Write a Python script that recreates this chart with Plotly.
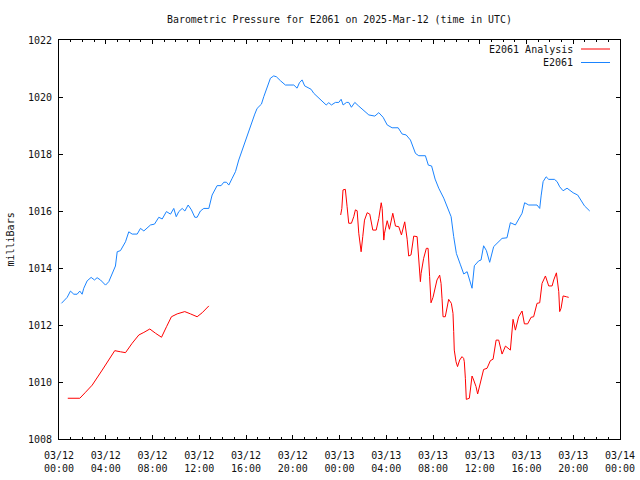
import pandas as pd
import plotly.graph_objects as go

base = pd.Timestamp("2025-03-12 00:00")

# E2061 observed (hours since 03/12 00:00 UTC, mb)
obs_hours = [0.21, 0.70, 0.98, 1.27, 1.55, 1.78, 1.98, 2.12, 2.41, 2.75, 3.04, 3.26, 3.55, 3.98, 4.26,
             4.55, 4.83, 4.98, 5.26, 5.69, 5.97, 6.26, 6.69, 6.97, 7.26, 7.83, 8.17, 8.54, 8.83, 9.19,
             9.54, 9.82, 10.03, 10.25, 10.54, 10.77, 11.05, 11.33, 11.62, 11.82, 12.10, 12.39, 12.82,
             13.10, 13.53, 13.87, 14.10, 14.33, 14.53, 14.82, 15.10, 15.38, 15.67, 15.95, 16.24, 16.53,
             16.75, 16.95, 17.32, 17.52, 17.81, 18.09, 18.37, 18.60, 18.95, 19.37, 20.09, 20.37, 20.57,
             20.80, 21.02, 21.23, 21.57, 21.80, 22.37, 22.86, 23.08, 23.31, 23.65, 23.94, 24.14, 24.31,
             24.60, 24.79, 25.02, 25.31, 25.65, 26.08, 26.51, 27.02, 27.36, 27.73, 28.08, 28.50, 29.02,
             29.36, 29.70, 30.07, 30.50, 30.78, 31.35, 31.60, 31.88, 32.18, 32.49, 32.92, 33.21, 33.55,
             33.77, 34.00, 34.35, 34.63, 34.92, 35.14, 35.34, 35.54, 35.91, 36.11, 36.33, 36.57, 36.85,
             37.19, 37.62, 37.91, 38.33, 38.62, 39.05, 39.33, 39.62, 39.84, 40.19, 40.90, 41.13, 41.25,
             41.42, 41.68, 41.90, 42.39, 42.62, 42.84, 43.13, 43.47, 43.76, 43.99, 44.38, 44.61, 44.96,
             45.41]
obs_mb = [1012.76, 1012.97, 1013.19, 1013.08, 1013.08, 1013.19, 1013.08, 1013.29, 1013.55, 1013.67,
          1013.58, 1013.66, 1013.58, 1013.40, 1013.52, 1013.81, 1014.07, 1014.57, 1014.61, 1014.92,
          1015.27, 1015.19, 1015.19, 1015.39, 1015.30, 1015.51, 1015.54, 1015.78, 1015.72, 1015.98,
          1015.89, 1016.09, 1015.80, 1015.98, 1016.09, 1016.00, 1016.21, 1016.04, 1015.78, 1015.78,
          1016.00, 1016.09, 1016.09, 1016.56, 1016.89, 1016.89, 1017.01, 1017.01, 1016.91, 1017.15,
          1017.38, 1017.79, 1018.14, 1018.49, 1018.84, 1019.13, 1019.40, 1019.60, 1019.75, 1020.01,
          1020.31, 1020.66, 1020.74, 1020.71, 1020.57, 1020.42, 1020.42, 1020.31, 1020.50, 1020.60,
          1020.39, 1020.34, 1020.27, 1020.13, 1019.92, 1019.72, 1019.80, 1019.72, 1019.81, 1019.81,
          1019.92, 1019.72, 1019.81, 1019.81, 1019.64, 1019.81, 1019.68, 1019.54, 1019.37, 1019.33,
          1019.45, 1019.29, 1019.02, 1018.92, 1018.92, 1018.70, 1018.67, 1018.49, 1018.02, 1017.94,
          1017.94, 1017.61, 1017.58, 1017.12, 1016.80, 1016.45, 1016.15, 1015.80, 1015.10, 1014.51,
          1014.11, 1013.79, 1013.87, 1013.60, 1013.29, 1014.08, 1014.25, 1014.28, 1014.78, 1014.61,
          1014.20, 1014.75, 1014.92, 1015.04, 1015.06, 1015.59, 1015.51, 1015.74, 1015.92, 1016.29,
          1016.21, 1016.21, 1016.09, 1016.53, 1017.03, 1017.20, 1017.11, 1017.11, 1017.03, 1016.85,
          1016.71, 1016.80, 1016.71, 1016.64, 1016.56, 1016.39, 1016.18, 1016.00]

# E2061 Analysis, first segment
ana1_hours = [0.75, 1.78, 2.27, 2.84, 3.70, 4.40, 4.77, 5.26, 5.69, 6.26, 6.83, 7.26, 7.77, 8.26,
              8.77, 9.20, 9.62, 10.11, 10.76, 11.25, 11.82, 12.25, 12.82]
ana1_mb = [1009.43, 1009.43, 1009.64, 1009.89, 1010.42, 1010.87, 1011.10, 1011.06, 1011.03, 1011.36,
           1011.65, 1011.74, 1011.86, 1011.71, 1011.57, 1011.94, 1012.29, 1012.39, 1012.47, 1012.39,
           1012.29, 1012.43, 1012.67]

# E2061 Analysis, second segment
ana2_hours = [24.10, 24.20, 24.30, 24.50, 24.65, 24.79, 25.02, 25.22, 25.36, 25.51, 25.65, 25.85,
              25.99, 26.14, 26.37, 26.59, 26.85, 27.14, 27.36, 27.57, 27.65, 27.79, 27.85, 28.08,
              28.27, 28.42, 28.56, 28.79, 29.07, 29.30, 29.41, 29.58, 29.79, 29.92, 30.12, 30.35,
              30.64, 30.78, 30.92, 30.98, 31.20, 31.43, 31.58, 31.71, 31.83, 32.00, 32.20, 32.34,
              32.57, 32.69, 32.77, 32.86, 33.05, 33.20, 33.34, 33.57, 33.71, 33.77, 33.82, 33.97,
              34.10, 34.28, 34.48, 34.62, 34.68, 34.77, 34.85, 35.11, 35.20, 35.34, 35.48, 35.68,
              35.82, 36.05, 36.33, 36.62, 36.91, 37.14, 37.40, 37.62, 37.91, 38.20, 38.62, 38.85,
              39.05, 39.33, 39.62, 39.82, 40.10, 40.39, 40.61, 40.90, 41.13, 41.33, 41.62, 41.90,
              42.19, 42.33, 42.56, 42.76, 42.84, 42.96, 43.13, 43.42, 43.61]
ana2_mb = [1015.86, 1016.09, 1016.74, 1016.76, 1016.15, 1015.57, 1015.57, 1015.80, 1016.04, 1016.01,
           1015.22, 1014.57, 1015.10, 1015.68, 1015.94, 1015.89, 1015.33, 1015.33, 1015.74, 1016.29,
           1016.09, 1014.98, 1015.22, 1015.66, 1015.36, 1015.68, 1015.92, 1015.47, 1015.45, 1015.16,
           1015.36, 1015.62, 1015.01, 1014.42, 1014.46, 1015.12, 1015.10, 1014.34, 1013.52, 1013.81,
           1014.34, 1014.69, 1014.69, 1013.70, 1012.78, 1012.97, 1013.29, 1013.58, 1013.75, 1013.46,
           1012.94, 1012.29, 1012.29, 1012.59, 1012.90, 1012.76, 1012.41, 1011.77, 1011.12, 1010.71,
           1010.54, 1010.77, 1010.89, 1010.83, 1010.71, 1010.13, 1009.39, 1009.43, 1009.72, 1010.21,
           1010.07, 1009.84, 1009.58, 1009.95, 1010.44, 1010.48, 1010.75, 1010.80, 1011.47, 1011.47,
           1010.98, 1011.26, 1011.12, 1012.20, 1011.82, 1012.29, 1012.49, 1012.04, 1012.04, 1012.27,
           1012.29, 1012.76, 1012.78, 1013.46, 1013.72, 1013.37, 1013.37, 1013.58, 1013.83, 1013.17,
           1012.47, 1012.59, 1013.02, 1012.99, 1012.97]

series_names = ["E2061 Analysis", "E2061"]
series_colors = ["#ff0000", "#1a84ff"]
title_text = "Barometric Pressure for E2061 on 2025-Mar-12 (time in UTC)"
y_label = "milliBars"


def to_time(hours):
    return list(base + pd.to_timedelta(hours, unit="h"))


ana_x = to_time(ana1_hours) + [None] + to_time(ana2_hours)
ana_y = ana1_mb + [None] + ana2_mb
obs_x = to_time(obs_hours)

FONT = "DejaVu Sans Mono"
TXT = "#111111"

fig = go.Figure()
fig.add_trace(go.Scatter(x=ana_x, y=ana_y, mode="lines", name=series_names[0],
                         line=dict(color=series_colors[0], width=1), connectgaps=False))
fig.add_trace(go.Scatter(x=obs_x, y=obs_mb, mode="lines", name=series_names[1],
                         line=dict(color=series_colors[1], width=1)))

axis_common = dict(showline=True, linecolor="black", linewidth=1, mirror="allticks",
                   ticks="inside", tickcolor="black", showgrid=False, zeroline=False,
                   automargin=False,
                   tickfont=dict(family=FONT, size=10, color=TXT))

fig.update_layout(
    width=640, height=480,
    margin=dict(l=59, r=20, t=40, b=41),
    paper_bgcolor="white", plot_bgcolor="white",
    showlegend=False,
    font=dict(family=FONT, size=10, color=TXT),
    title=dict(text=title_text, x=0.5, xref="paper", y=1 - 20 / 480, yref="container",
               xanchor="center", yanchor="middle",
               font=dict(family=FONT, size=9.9, color=TXT)),
    xaxis=dict(range=[base, base + pd.Timedelta(hours=48)], dtick=4 * 3600000,
               tick0=base, tickformat="%m/%d<br>%H:%M", ticklen=4, ticklabelstandoff=7,
               minor=dict(dtick=3600000, ticklen=2, ticks="inside", tickcolor="black"),
               **axis_common),
    yaxis=dict(range=[1008, 1022], dtick=2, tick0=1008, ticklen=4, ticklabelstandoff=4,
               **axis_common),
)

# y-axis label
fig.add_annotation(text=y_label, textangle=-90, xref="paper", yref="paper",
                   x=(10 - 59) / 561, y=0.5, showarrow=False, xanchor="center", yanchor="middle",
                   font=dict(family=FONT, size=10, color=TXT))

# gnuplot-style legend: right-aligned text followed by line sample
legend_ys = [(439 - 49) / 399, (439 - 62.5) / 399]
for name, color, ly in zip(series_names, series_colors, legend_ys):
    fig.add_annotation(text=name, xref="paper", yref="paper", x=(575 - 59) / 561, y=ly,
                       showarrow=False, xanchor="right", yanchor="middle",
                       font=dict(family=FONT, size=10, color=TXT))
    fig.add_shape(type="line", xref="paper", yref="paper",
                  x0=(581 - 59) / 561, x1=(610 - 59) / 561, y0=ly, y1=ly,
                  line=dict(color=color, width=1))

fig.write_html("out.html")
